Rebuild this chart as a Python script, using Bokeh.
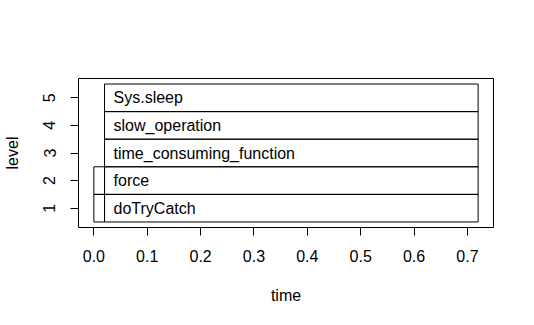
from bokeh.plotting import figure
from bokeh.models import FixedTicker, Range1d
from bokeh.core.properties import value
from bokeh.embed import file_html
from bokeh.resources import INLINE

levels = [1, 1, 2, 2, 3, 4, 5]
starts = [0.0, 0.02, 0.0, 0.02, 0.02, 0.02, 0.02]
ends = [0.02, 0.72, 0.02, 0.72, 0.72, 0.72, 0.72]
labels = ["", "doTryCatch", "", "force", "time_consuming_function", "slow_operation", "Sys.sleep"]
x_ticks = [0.0, 0.1, 0.2, 0.3, 0.4, 0.5, 0.6, 0.7]
y_ticks = [1, 2, 3, 4, 5]

FONT = "Liberation Sans"

p = figure(width=534, height=325, output_backend="svg", toolbar_location=None,
           x_range=Range1d(-0.0288, 0.7488), y_range=Range1d(0.3, 5.7),
           min_border_left=78, min_border_right=41, min_border_top=78, min_border_bottom=98,
           x_axis_label="time", y_axis_label="level")
p.background_fill_color = "white"
p.border_fill_color = "white"
p.outline_line_color = "black"
p.outline_line_width = 1
p.xgrid.visible = False
p.ygrid.visible = False

p.quad(left=starts, right=ends, bottom=[l - 0.5 for l in levels], top=[l + 0.5 for l in levels],
       fill_color=None, line_color="black", line_width=1)
p.text(x=starts, y=levels, text=labels, x_offset=9, text_baseline="middle", text_align="left",
       text_font=value(FONT), text_font_size="16px", text_color="black")

for ax, ticks in ((p.xaxis[0], x_ticks), (p.yaxis[0], y_ticks)):
    ax.ticker = FixedTicker(ticks=ticks)
    ax.axis_line_color = None
    ax.major_tick_line_color = "black"
    ax.major_tick_out = 8
    ax.major_tick_in = 0
    ax.minor_tick_line_color = None
    ax.major_label_text_font = FONT
    ax.major_label_text_font_size = "16px"
    ax.major_label_text_color = "black"
    ax.axis_label_text_font = FONT
    ax.axis_label_text_font_size = "16px"
    ax.axis_label_text_font_style = "normal"
    ax.axis_label_text_color = "black"

p.xaxis[0].major_label_overrides = {t: f"{t:.1f}" for t in x_ticks}
p.xaxis[0].major_label_standoff = 14
p.xaxis[0].axis_label_standoff = 22
p.yaxis[0].major_label_orientation = "vertical"
p.yaxis[0].major_label_standoff = 15
p.yaxis[0].axis_label_standoff = 20

open("out.html", "w").write(file_html(p, INLINE))
